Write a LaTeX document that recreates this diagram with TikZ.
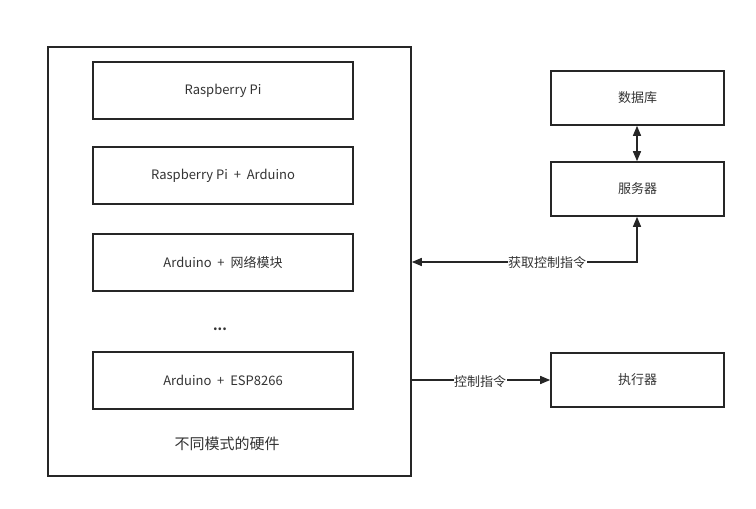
\documentclass[tikz,border=0pt]{standalone}
\usepackage{fontspec}
\setmainfont{Noto Sans CJK SC}
\usetikzlibrary{arrows.meta}
\begin{document}
\begin{tikzpicture}[x=1pt,y=-1pt,
  box/.style={draw=black!85,line width=1.6pt,inner sep=0pt,font=\fontsize{13}{15}\selectfont,text=black!80},
  conn/.style={draw=black!85,line width=1.4pt},
  lbl/.style={fill=white,inner sep=0.5pt,font=\fontsize{13}{15}\selectfont,text=black!80},
  tip/.style={-{Triangle[length=10pt,width=8pt]}}]
\useasboundingbox (0,0) rectangle (756,509);
\node[box,minimum width=363pt,minimum height=429pt] (outer) at (229.5,261.5) {};
\node[box,minimum width=260pt,minimum height=57pt] (b1) at (223,90.5) {Raspberry Pi};
\node[box,minimum width=260pt,minimum height=57pt] (b2) at (223,175.5) {Raspberry Pi\ \ +\ \ Arduino};
\node[box,minimum width=260pt,minimum height=57pt] (b3) at (223,262.5) {Arduino\ \ +\ \ 网络模块};
\node[font=\bfseries\fontsize{13}{15}\selectfont,text=black!80] (dots) at (220,329) {...};
\node[box,minimum width=260pt,minimum height=57pt] (b4) at (223,380.5) {Arduino\ \ +\ \ ESP8266};
\node[font=\fontsize{15}{17}\selectfont,text=black!80] (hw) at (227,444) {不同模式的硬件};
\node[box,minimum width=173pt,minimum height=54pt] (db) at (637.5,98) {数据库};
\node[box,minimum width=173pt,minimum height=54pt] (srv) at (637.5,189) {服务器};
\node[box,minimum width=173pt,minimum height=54pt] (act) at (637.5,380) {执行器};
\coordinate (bend) at (637,262);
\draw[conn,{Triangle[length=10pt,width=8pt]}-{Triangle[length=10pt,width=8pt]}] (db.south -| bend) -- (srv.north -| bend);
\draw[conn,{Triangle[length=10pt,width=8pt]}-{Triangle[length=10pt,width=8pt]}] (srv.south -| bend) -- (bend) -- (outer.east |- bend);
\node[lbl] (l1) at (547,263) {获取控制指令};
\draw[conn,tip] (outer.east |- act) -- (act.west);
\node[lbl] (l2) at (480,382) {控制指令};
\end{tikzpicture}
\end{document}
